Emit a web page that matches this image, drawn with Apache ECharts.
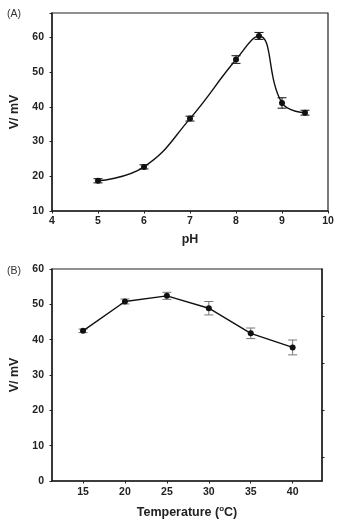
<!DOCTYPE html>
<html>
<head>
<meta charset="utf-8">
<script src="https://cdn.jsdelivr.net/npm/echarts@6/dist/echarts.min.js"></script>
<style>
  html, body { margin: 0; padding: 0; background: #fff; }
  #chart { width: 338px; height: 521px; }
</style>
</head>
<body>
<div id="chart"></div>
<script>
// panel A: potential vs pH
const phValues = [5, 6, 7, 8, 8.5, 9, 9.5]
const phSignal = [18.7, 22.7, 36.6, 53.6, 60.4, 41.1, 38.3]
const phError = [0.6, 0.6, 0.7, 1.1, 1.0, 1.5, 0.7]

// panel B: potential vs temperature
const tempValues = [15, 20, 25, 30, 35, 40]
const tempSignal = [42.5, 50.8, 52.4, 48.9, 41.8, 37.8]
const tempError = [0.5, 0.7, 1.0, 1.9, 1.5, 2.1]
const tempTicks = [15, 20, 25, 30, 35, 40]
const rightTicks = [20 / 3, 20, 100 / 3, 140 / 3]

const font = 'Liberation Sans, Arial, sans-serif'

function pairs (xs, ys) {
  return xs.map((x, i) => [x, ys[i]])
}

function errRows (xs, ys, es) {
  return xs.map((x, i) => [x, ys[i] - es[i], ys[i] + es[i]])
}

function errorBars (color) {
  return function (params, api) {
    const lo = api.coord([api.value(0), api.value(1)])
    const hi = api.coord([api.value(0), api.value(2)])
    const w = 4.5
    const style = { stroke: color, lineWidth: 1 }
    return {
      type: 'group',
      children: [
        { type: 'line', shape: { x1: lo[0], y1: lo[1], x2: hi[0], y2: hi[1] }, style },
        { type: 'line', shape: { x1: lo[0] - w, y1: lo[1], x2: lo[0] + w, y2: lo[1] }, style },
        { type: 'line', shape: { x1: hi[0] - w, y1: hi[1], x2: hi[0] + w, y2: hi[1] }, style }
      ]
    }
  }
}

const axisLine = { show: true, lineStyle: { color: '#222', width: 1.5 } }
const tick = { show: true, length: 2.5, lineStyle: { color: '#222' } }
const label = { color: '#222', fontFamily: font, fontWeight: 'bold', fontSize: 10.5 }
const nameStyle = { color: '#222', fontFamily: font, fontWeight: 'bold', fontSize: 12.5 }

const chart = echarts.init(document.getElementById('chart'))
chart.setOption({
  animation: false,
  backgroundColor: '#fff',
  graphic: [
    { type: 'text', left: 7, top: 9, style: { text: '(A)', font: '10.5px ' + font, fill: '#333' } },
    { type: 'text', left: 7, top: 266, style: { text: '(B)', font: '10.5px ' + font, fill: '#333' } }
  ],
  grid: [
    { left: 52, top: 13, right: 10, height: 198, show: true, borderColor: '#222', borderWidth: 1.2, backgroundColor: 'transparent' },
    { left: 52, top: 269, right: 16, height: 212, show: true, borderColor: '#222', borderWidth: 1.2, backgroundColor: 'transparent' }
  ],
  xAxis: [
    {
      gridIndex: 0,
      type: 'value',
      min: 4,
      max: 10,
      interval: 1,
      name: 'pH',
      nameLocation: 'middle',
      nameGap: 22,
      nameTextStyle: nameStyle,
      axisLine,
      axisTick: tick,
      axisLabel: Object.assign({ margin: 5 }, label),
      splitLine: { show: false }
    },
    {
      gridIndex: 1,
      type: 'value',
      min: 11.3,
      max: 43.5,
      name: 'Temperature ({sup|o}C)',
      nameLocation: 'middle',
      nameGap: 24,
      nameTextStyle: Object.assign({}, nameStyle, {
        rich: { sup: { fontFamily: font, fontWeight: 'bold', fontSize: 8, color: '#222', padding: [0, 0, 7, 0] } }
      }),
      axisLine,
      axisTick: Object.assign({ customValues: tempTicks }, tick),
      axisLabel: Object.assign({ margin: 6, customValues: tempTicks }, label),
      splitLine: { show: false }
    }
  ],
  yAxis: [
    {
      gridIndex: 0,
      type: 'value',
      min: 10,
      max: 67,
      interval: 10,
      name: 'V/ mV',
      nameLocation: 'middle',
      nameGap: 30,
      nameTextStyle: nameStyle,
      axisLine,
      axisTick: tick,
      axisLabel: Object.assign({
        margin: 8,
        formatter: v => (v % 10 === 0 ? String(v) : '')
      }, label),
      splitLine: { show: false }
    },
    {
      gridIndex: 1,
      type: 'value',
      min: 0,
      max: 60,
      interval: 10,
      name: 'V/ mV',
      nameLocation: 'middle',
      nameGap: 30,
      nameTextStyle: nameStyle,
      axisLine,
      axisTick: tick,
      axisLabel: Object.assign({ margin: 8 }, label),
      splitLine: { show: false }
    },
    {
      gridIndex: 1,
      type: 'value',
      position: 'right',
      min: 0,
      max: 60,
      axisLine,
      axisTick: Object.assign({ customValues: rightTicks }, tick),
      axisLabel: { show: false },
      splitLine: { show: false }
    }
  ],
  series: [
    {
      type: 'line',
      xAxisIndex: 0,
      yAxisIndex: 0,
      data: pairs(phValues, phSignal),
      smooth: 0.45,
      symbol: 'circle',
      symbolSize: 6,
      lineStyle: { color: '#111', width: 1.4 },
      itemStyle: { color: '#111' },
      z: 3
    },
    {
      type: 'custom',
      xAxisIndex: 0,
      yAxisIndex: 0,
      data: errRows(phValues, phSignal, phError),
      renderItem: errorBars('#111'),
      encode: { x: 0, y: [1, 2] },
      z: 4
    },
    {
      type: 'line',
      xAxisIndex: 1,
      yAxisIndex: 1,
      data: pairs(tempValues, tempSignal),
      symbol: 'circle',
      symbolSize: 6,
      lineStyle: { color: '#111', width: 1.4 },
      itemStyle: { color: '#111' },
      z: 3
    },
    {
      type: 'custom',
      xAxisIndex: 1,
      yAxisIndex: 1,
      data: errRows(tempValues, tempSignal, tempError),
      renderItem: errorBars('#777'),
      encode: { x: 0, y: [1, 2] },
      z: 2
    }
  ]
})
</script>
</body>
</html>
